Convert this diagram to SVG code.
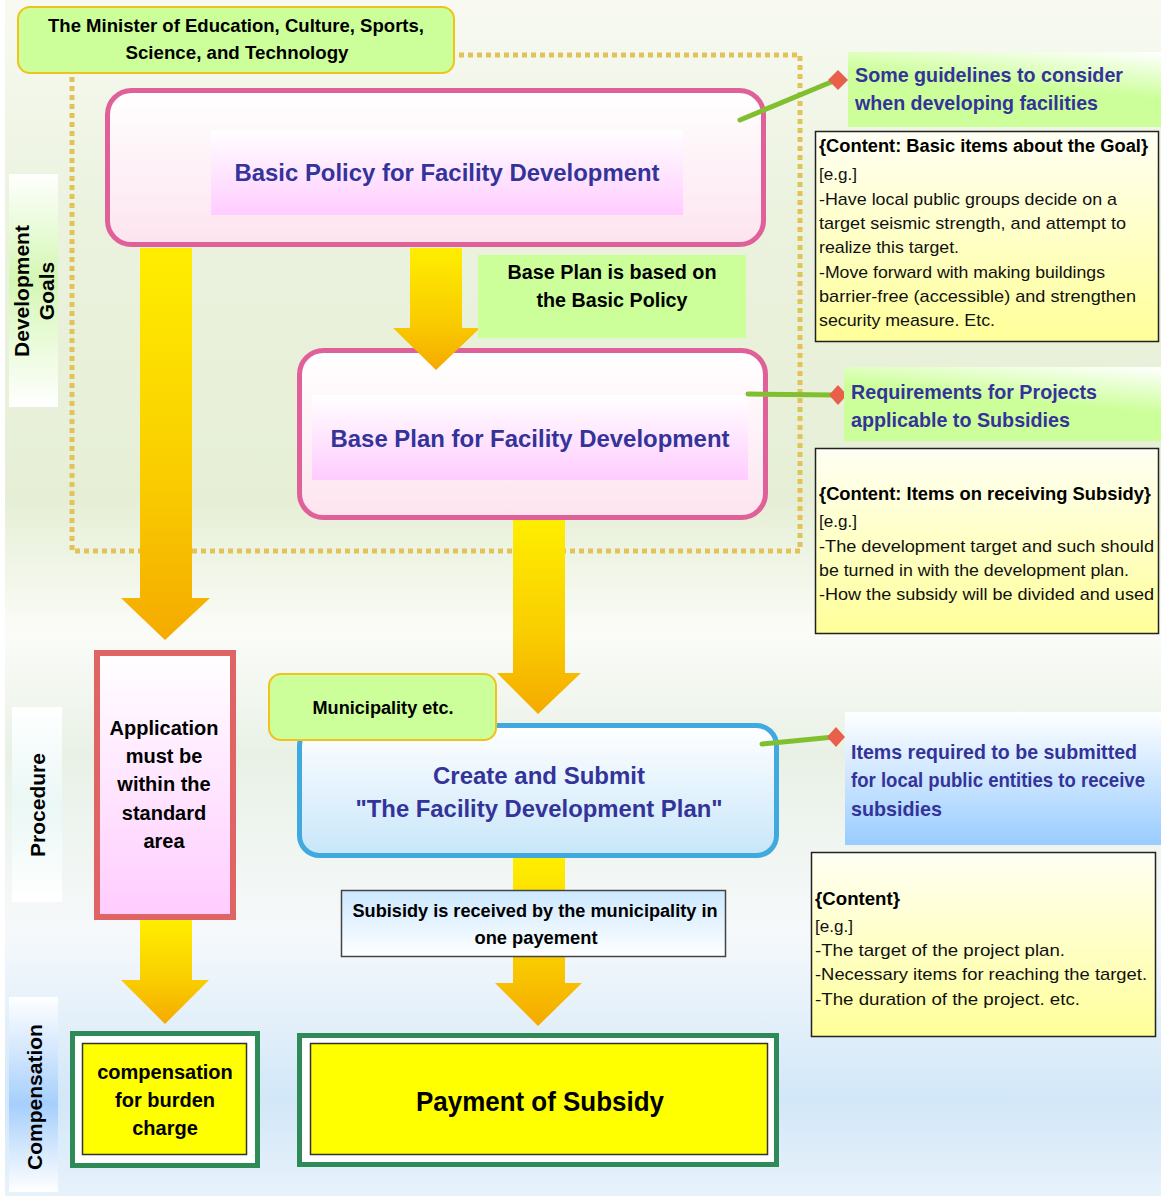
<svg xmlns="http://www.w3.org/2000/svg" width="1161" height="1196" viewBox="0 0 1161 1196">
<defs>
<linearGradient id="bg" x1="0" y1="0" x2="0" y2="1">
<stop offset="0" stop-color="#f8faf2"/>
<stop offset="0.18" stop-color="#ebf2de"/>
<stop offset="0.42" stop-color="#e6efd6"/>
<stop offset="0.53" stop-color="#fbfcf8"/>
<stop offset="0.63" stop-color="#e9f1e6"/>
<stop offset="0.78" stop-color="#f6f9fb"/>
<stop offset="0.92" stop-color="#d2e7f8"/>
<stop offset="1" stop-color="#e8f2fb"/>
</linearGradient>
<linearGradient id="arrowG" x1="0" y1="0" x2="0" y2="1">
<stop offset="0" stop-color="#ffee00"/>
<stop offset="0.6" stop-color="#f9cc00"/>
<stop offset="1" stop-color="#f5aa00"/>
</linearGradient>
<linearGradient id="pinkBox" x1="0" y1="0" x2="0" y2="1">
<stop offset="0" stop-color="#ffffff"/>
<stop offset="1" stop-color="#fde4ef"/>
</linearGradient>
<linearGradient id="pinkInner" x1="0" y1="0" x2="0" y2="1">
<stop offset="0" stop-color="#ffffff"/>
<stop offset="1" stop-color="#ffccff"/>
</linearGradient>
<linearGradient id="blueBox" x1="0" y1="0" x2="0" y2="1">
<stop offset="0" stop-color="#ffffff"/>
<stop offset="1" stop-color="#c8e6fa"/>
</linearGradient>
<linearGradient id="noteG" x1="0" y1="0" x2="0" y2="1">
<stop offset="0" stop-color="#fffff4"/>
<stop offset="1" stop-color="#ffff99"/>
</linearGradient>
<linearGradient id="greenLbl" x1="1" y1="0" x2="0.6" y2="1">
<stop offset="0" stop-color="#ffffff"/>
<stop offset="0.55" stop-color="#ccff99"/>
<stop offset="1" stop-color="#ccff99"/>
</linearGradient>
<linearGradient id="blueLbl" x1="0" y1="0" x2="0" y2="1">
<stop offset="0" stop-color="#ffffff"/>
<stop offset="1" stop-color="#99ccff"/>
</linearGradient>
<linearGradient id="subG" x1="0" y1="0" x2="0" y2="1">
<stop offset="0" stop-color="#cce8ff"/>
<stop offset="1" stop-color="#ffffff"/>
</linearGradient>
<linearGradient id="sideGreen" x1="0" y1="0" x2="0" y2="1">
<stop offset="0" stop-color="#ffffff"/>
<stop offset="0.45" stop-color="#d4f7b4"/>
<stop offset="1" stop-color="#ffffff"/>
</linearGradient>
<linearGradient id="sideCyan" x1="0" y1="0" x2="0" y2="1">
<stop offset="0" stop-color="#ffffff"/>
<stop offset="0.5" stop-color="#eaf8f6"/>
<stop offset="1" stop-color="#ffffff"/>
</linearGradient>
<linearGradient id="sideBlue" x1="0" y1="0" x2="0" y2="1">
<stop offset="0" stop-color="#ffffff"/>
<stop offset="0.55" stop-color="#a6cffc"/>
<stop offset="1" stop-color="#ffffff"/>
</linearGradient>
<style>
text{font-family:"Liberation Sans",Arial,sans-serif;}
.b{font-weight:bold;}
.blk{fill:#000;}
.title{font-weight:bold;fill:#333399;font-size:24px;text-anchor:middle;}
.lbl{font-weight:bold;fill:#333399;font-size:21px;}
.note{font-size:17px;fill:#111;}
.noteh{font-size:18px;font-weight:bold;fill:#000;}
.mid{text-anchor:middle;}
.arrow{fill:url(#arrowG);}
.link{stroke:#80c030;stroke-width:5;fill:none;stroke-linecap:round;}
.dia{fill:#e8604a;}
.notebox{fill:url(#noteG);stroke:#222;stroke-width:1.5;}
.pinkframe{fill:url(#pinkBox);stroke:#e0609a;stroke-width:5;}
.greenframe{fill:#ffffff;stroke:#2e8b57;stroke-width:5;}
.yel{fill:#ffff00;stroke:#333;stroke-width:1.5;}
</style>
</defs>

<rect x="0" y="0" width="1161" height="1196" fill="#ffffff"/>
<rect x="5" y="0" width="1156" height="1196" fill="url(#bg)"/>

<rect id="goals-frame" x="72" y="55" width="728" height="496" fill="none" stroke="#e2c35a" stroke-width="5" stroke-dasharray="5 4"/>

<g id="side-development">
<rect x="9" y="174" width="49" height="233" fill="url(#sideGreen)"/>
<text class="b blk" font-size="21" text-anchor="middle" transform="translate(29,291) rotate(-90)">Development</text>
<text class="b blk" font-size="21" text-anchor="middle" transform="translate(54,291) rotate(-90)">Goals</text>
</g>
<g id="side-procedure">
<rect x="12" y="707" width="50" height="195" fill="url(#sideCyan)"/>
<text class="b blk" font-size="21" text-anchor="middle" transform="translate(45,805) rotate(-90)">Procedure</text>
</g>
<g id="side-compensation">
<rect x="9" y="997" width="49" height="195" fill="url(#sideBlue)"/>
<text class="b blk" font-size="21" text-anchor="middle" transform="translate(42,1097) rotate(-90)">Compensation</text>
</g>

<g id="basic-policy">
<rect class="pinkframe" x="107.5" y="90.5" width="656" height="154" rx="24"/>
<rect x="211" y="130" width="472" height="85" fill="url(#pinkInner)"/>
<text class="title" x="447" y="181" textLength="425" lengthAdjust="spacingAndGlyphs">Basic Policy for Facility Development</text>
</g>

<g id="base-plan">
<rect class="pinkframe" x="299.5" y="350.5" width="466" height="167" rx="24"/>
<rect x="312" y="395" width="436" height="85" fill="url(#pinkInner)"/>
<text class="title" x="530" y="447" textLength="399" lengthAdjust="spacingAndGlyphs">Base Plan for Facility Development</text>
</g>

<g id="create-submit">
<rect x="299.5" y="725.5" width="477" height="130" rx="20" fill="url(#blueBox)" stroke="#3fa9e0" stroke-width="5"/>
<text class="title" x="539" y="784" textLength="212" lengthAdjust="spacingAndGlyphs">Create and Submit</text>
<text class="title" x="539" y="817" textLength="367" lengthAdjust="spacingAndGlyphs">"The Facility Development Plan"</text>
</g>

<g id="application">
<rect x="97" y="653" width="136" height="264" fill="url(#pinkInner)" stroke="#e06464" stroke-width="6"/>
<text class="b blk mid" font-size="20" x="164" y="735">Application</text>
<text class="b blk mid" font-size="20" x="164" y="763">must be</text>
<text class="b blk mid" font-size="20" x="164" y="791">within the</text>
<text class="b blk mid" font-size="20" x="164" y="820">standard</text>
<text class="b blk mid" font-size="20" x="164" y="848">area</text>
</g>

<g id="compensation">
<rect class="greenframe" x="72.5" y="1033.5" width="185" height="132"/>
<rect class="yel" x="82.5" y="1043.5" width="164" height="111"/>
<text class="b blk mid" font-size="20" x="165" y="1079">compensation</text>
<text class="b blk mid" font-size="20" x="165" y="1107">for burden</text>
<text class="b blk mid" font-size="20" x="165" y="1135">charge</text>
</g>

<g id="payment">
<rect class="greenframe" x="299.5" y="1035.5" width="477" height="129"/>
<rect class="yel" x="310.5" y="1043.5" width="457" height="111"/>
<text class="b blk mid" font-size="28" x="540" y="1111" textLength="248" lengthAdjust="spacingAndGlyphs">Payment of Subsidy</text>
</g>

<g id="connectors">
<polygon class="arrow" points="140,248 192,248 192,598 210,598 165,640 121,598 140,598"/>
<polygon class="arrow" points="410,248 462,248 462,328 480,328 436,370 393,328 410,328"/>
<polygon class="arrow" points="513,520 565,520 565,673 581,673 538,714 497,673 513,673"/>
<polygon class="arrow" points="140,920 192,920 192,980 209,980 165,1024 121,980 140,980"/>
<polygon class="arrow" points="513,858 565,858 565,983 582,983 538,1026 495,983 513,983"/>
<line class="link" x1="740" y1="120" x2="836" y2="80"/>
<polygon class="dia" points="838,70 848,80 838,90 828,80"/>
<line class="link" x1="748" y1="394" x2="836" y2="395"/>
<polygon class="dia" points="838,385 847,395 838,405 829,395"/>
<line class="link" x1="762" y1="744" x2="834" y2="737"/>
<polygon class="dia" points="836,727 845,737 836,747 827,737"/>
</g>

<g id="minister">
<rect x="18" y="7" width="436" height="66" rx="12" fill="#ccff99" stroke="#f2c21c" stroke-width="2"/>
<text class="b blk mid" font-size="19" x="236" y="32" textLength="376" lengthAdjust="spacingAndGlyphs">The Minister of Education, Culture, Sports,</text>
<text class="b blk mid" font-size="19" x="237" y="59" textLength="223" lengthAdjust="spacingAndGlyphs">Science, and Technology</text>
</g>

<g id="based-on">
<rect x="478" y="255" width="268" height="83" fill="#ccff99"/>
<text class="b blk mid" font-size="20" x="612" y="279" textLength="209" lengthAdjust="spacingAndGlyphs">Base Plan is based on</text>
<text class="b blk mid" font-size="20" x="612" y="307" textLength="151" lengthAdjust="spacingAndGlyphs">the Basic Policy</text>
</g>

<g id="municipality">
<rect x="269" y="674" width="227" height="66" rx="12" fill="#ccff99" stroke="#f2c21c" stroke-width="2"/>
<text class="b blk mid" font-size="18" x="383" y="714" textLength="141" lengthAdjust="spacingAndGlyphs">Municipality etc.</text>
</g>

<g id="subsidy-received">
<rect x="341.5" y="890.5" width="384" height="66" fill="url(#subG)" stroke="#444" stroke-width="1.5"/>
<text class="b blk mid" font-size="18" x="535" y="917" textLength="365" lengthAdjust="spacingAndGlyphs">Subisidy is received by the municipality in</text>
<text class="b blk mid" font-size="18" x="536" y="944" textLength="123" lengthAdjust="spacingAndGlyphs">one payement</text>
</g>

<g id="label-guidelines">
<rect x="848" y="52" width="313" height="75" fill="url(#greenLbl)"/>
<text class="lbl" x="855" y="82" textLength="268" lengthAdjust="spacingAndGlyphs">Some guidelines to consider</text>
<text class="lbl" x="855" y="110" textLength="243" lengthAdjust="spacingAndGlyphs">when developing facilities</text>
</g>

<g id="note-goal">
<rect class="notebox" x="815.5" y="131.5" width="343" height="210"/>
<text class="noteh" x="819" y="152" textLength="329" lengthAdjust="spacingAndGlyphs">{Content: Basic items about the Goal}</text>
<text class="note" x="819" y="180" textLength="38" lengthAdjust="spacingAndGlyphs">[e.g.]</text>
<text class="note" x="819" y="205" textLength="298" lengthAdjust="spacingAndGlyphs">-Have local public groups decide on a</text>
<text class="note" x="819" y="229" textLength="307" lengthAdjust="spacingAndGlyphs">target seismic strength, and attempt to</text>
<text class="note" x="819" y="253" textLength="140" lengthAdjust="spacingAndGlyphs">realize this target.</text>
<text class="note" x="819" y="278" textLength="286" lengthAdjust="spacingAndGlyphs">-Move forward with making buildings</text>
<text class="note" x="819" y="302" textLength="317" lengthAdjust="spacingAndGlyphs">barrier-free (accessible) and strengthen</text>
<text class="note" x="819" y="326" textLength="176" lengthAdjust="spacingAndGlyphs">security measure. Etc.</text>
</g>

<g id="label-requirements">
<rect x="844" y="367" width="317" height="74" fill="url(#greenLbl)"/>
<text class="lbl" x="851" y="399" textLength="246" lengthAdjust="spacingAndGlyphs">Requirements for Projects</text>
<text class="lbl" x="851" y="427" textLength="219" lengthAdjust="spacingAndGlyphs">applicable to Subsidies</text>
</g>

<g id="note-subsidy">
<rect class="notebox" x="815.5" y="448.5" width="343" height="185"/>
<text class="noteh" x="819" y="500" textLength="332" lengthAdjust="spacingAndGlyphs">{Content: Items on receiving Subsidy}</text>
<text class="note" x="819" y="527" textLength="38" lengthAdjust="spacingAndGlyphs">[e.g.]</text>
<text class="note" x="819" y="552" textLength="335" lengthAdjust="spacingAndGlyphs">-The development target and such should</text>
<text class="note" x="819" y="576" textLength="310" lengthAdjust="spacingAndGlyphs">be turned in with the development plan.</text>
<text class="note" x="819" y="600" textLength="335" lengthAdjust="spacingAndGlyphs">-How the subsidy will be divided and used</text>
</g>

<g id="label-items">
<rect x="845" y="712" width="316" height="133" fill="url(#blueLbl)"/>
<text class="lbl" x="851" y="759" textLength="286" lengthAdjust="spacingAndGlyphs">Items required to be submitted</text>
<text class="lbl" font-size="20" x="851" y="787" textLength="294" lengthAdjust="spacingAndGlyphs">for local public entities to receive</text>
<text class="lbl" x="851" y="816" textLength="91" lengthAdjust="spacingAndGlyphs">subsidies</text>
</g>

<g id="note-content">
<rect class="notebox" x="811.5" y="852.5" width="344" height="184"/>
<text class="noteh" x="815" y="905" textLength="85" lengthAdjust="spacingAndGlyphs">{Content}</text>
<text class="note" x="815" y="932" textLength="38" lengthAdjust="spacingAndGlyphs">[e.g.]</text>
<text class="note" x="815" y="956" textLength="250" lengthAdjust="spacingAndGlyphs">-The target of the project plan.</text>
<text class="note" x="815" y="980" textLength="332" lengthAdjust="spacingAndGlyphs">-Necessary items for reaching the target.</text>
<text class="note" x="815" y="1005" textLength="265" lengthAdjust="spacingAndGlyphs">-The duration of the project. etc.</text>
</g>
</svg>
